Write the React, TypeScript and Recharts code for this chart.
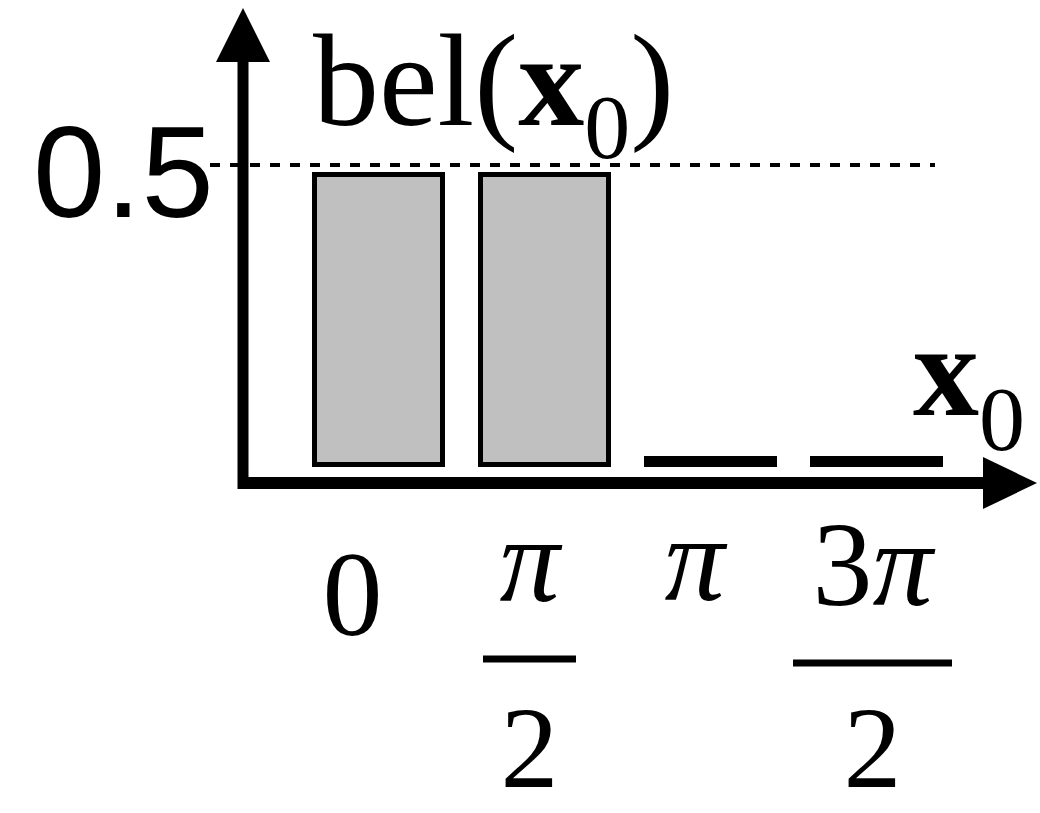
import React from 'react';
import { BarChart, Bar, Cell, XAxis, YAxis, Customized } from 'recharts';

const angles = ['0', 'π/2', 'π', '3π/2'];
const belief = [0.5, 0.5, 0, 0];
const yTicks = [0.5];

const data = angles.map((angle, i) => ({ angle, bel: belief[i] }));

const SERIF = '"Liberation Serif", "Times New Roman", serif';
const SANS = '"Liberation Sans", Arial, sans-serif';

// labels sit a bit to the left of their bars
const labelShift: Record<string, number> = { '0': -26, 'π/2': -15, 'π': -16, '3π/2': -4 };

// digits upright, π in italic
function glyphs(s: string) {
  return s.split('').map((ch, i) =>
    ch === 'π' ? (
      <tspan key={i} fontStyle="italic">{ch}</tspan>
    ) : (
      <tspan key={i}>{ch}</tspan>
    )
  );
}

function AngleTick({ x, y, payload }: any) {
  const label: string = payload.value;
  const cx = x + (labelShift[label] ?? 0);
  const common = { fontFamily: SERIF, fontSize: 120, fill: '#000', textAnchor: 'middle' as const };
  if (!label.includes('/')) {
    const base = label === '0' ? 170 : 135;
    return (
      <text x={cx} y={y + base} {...common}>
        {glyphs(label)}
      </text>
    );
  }
  const [num, den] = label.split('/');
  const wide = num.length > 1;
  const drop = wide ? 4 : 0;
  const barW = wide ? 159 : 93;
  return (
    <g>
      <text x={cx} y={y + 136 + drop} {...common}>
        {glyphs(num)}
      </text>
      <rect x={cx - barW / 2} y={y + 191 + drop} width={barW} height={7} fill="#000" />
      <text x={cx} y={y + 322} {...common} fontSize={116}>
        {den}
      </text>
    </g>
  );
}

function ValueTick({ y, payload }: any) {
  return (
    <g>
      <line x1={210} x2={935} y1={y - 9.5} y2={y - 9.5} stroke="#000" strokeWidth={4} strokeDasharray="10 10" />
      <text x={33} y={y + 42.5} fontFamily={SANS} fontSize={130} fill="#000">
        {payload.value}
      </text>
    </g>
  );
}

// arrowed axes and the two axis captions
function Decorations() {
  return (
    <g>
      <line x1={243} y1={55} x2={243} y2={489} stroke="#000" strokeWidth={11} />
      <polygon points="243,8 216,62 270,62" fill="#000" />
      <line x1={238} y1={483} x2={990} y2={483} stroke="#000" strokeWidth={12} />
      <polygon points="1037,483 983,457 983,509" fill="#000" />
      <text x={313} y={125} fontFamily={SERIF} fontSize={132} fill="#000">
        bel(
        <tspan fontWeight="bold">x</tspan>
        <tspan fontSize={92} dy={33}>0</tspan>
        <tspan dy={-33}>)</tspan>
      </text>
      <text x={913} y={415} fontFamily={SERIF} fontSize={132} fontWeight="bold" fill="#000">
        x
        <tspan fontWeight="normal" fontSize={92} dy={35}>0</tspan>
      </text>
    </g>
  );
}

export default function App() {
  return (
    <div style={{ position: 'absolute', left: 0, top: 0, width: 1040, height: 813, background: '#fff' }}>
      <BarChart
        width={1040}
        height={813}
        data={data}
        margin={{ top: 174.5, right: 80.5, bottom: 8.5, left: 195.5 }}
      >
        <XAxis
          dataKey="angle"
          axisLine={false}
          tickLine={false}
          tickSize={0}
          tickMargin={0}
          height={340}
          interval={0}
          tick={<AngleTick />}
        />
        <YAxis
          domain={[0, 0.5]}
          ticks={yTicks}
          axisLine={false}
          tickLine={false}
          width={100}
          tick={<ValueTick />}
        />
        <Bar dataKey="bel" barSize={128} minPointSize={6} stroke="#000" strokeWidth={5} isAnimationActive={false}>
          {data.map((d, i) => (
            <Cell
              key={`cell-${i}`}
              fill={d.bel > 0 ? '#c0c0c0' : '#000'}
              stroke="#000"
              strokeWidth={5}
            />
          ))}
        </Bar>
        <Customized component={Decorations} />
      </BarChart>
    </div>
  );
}
